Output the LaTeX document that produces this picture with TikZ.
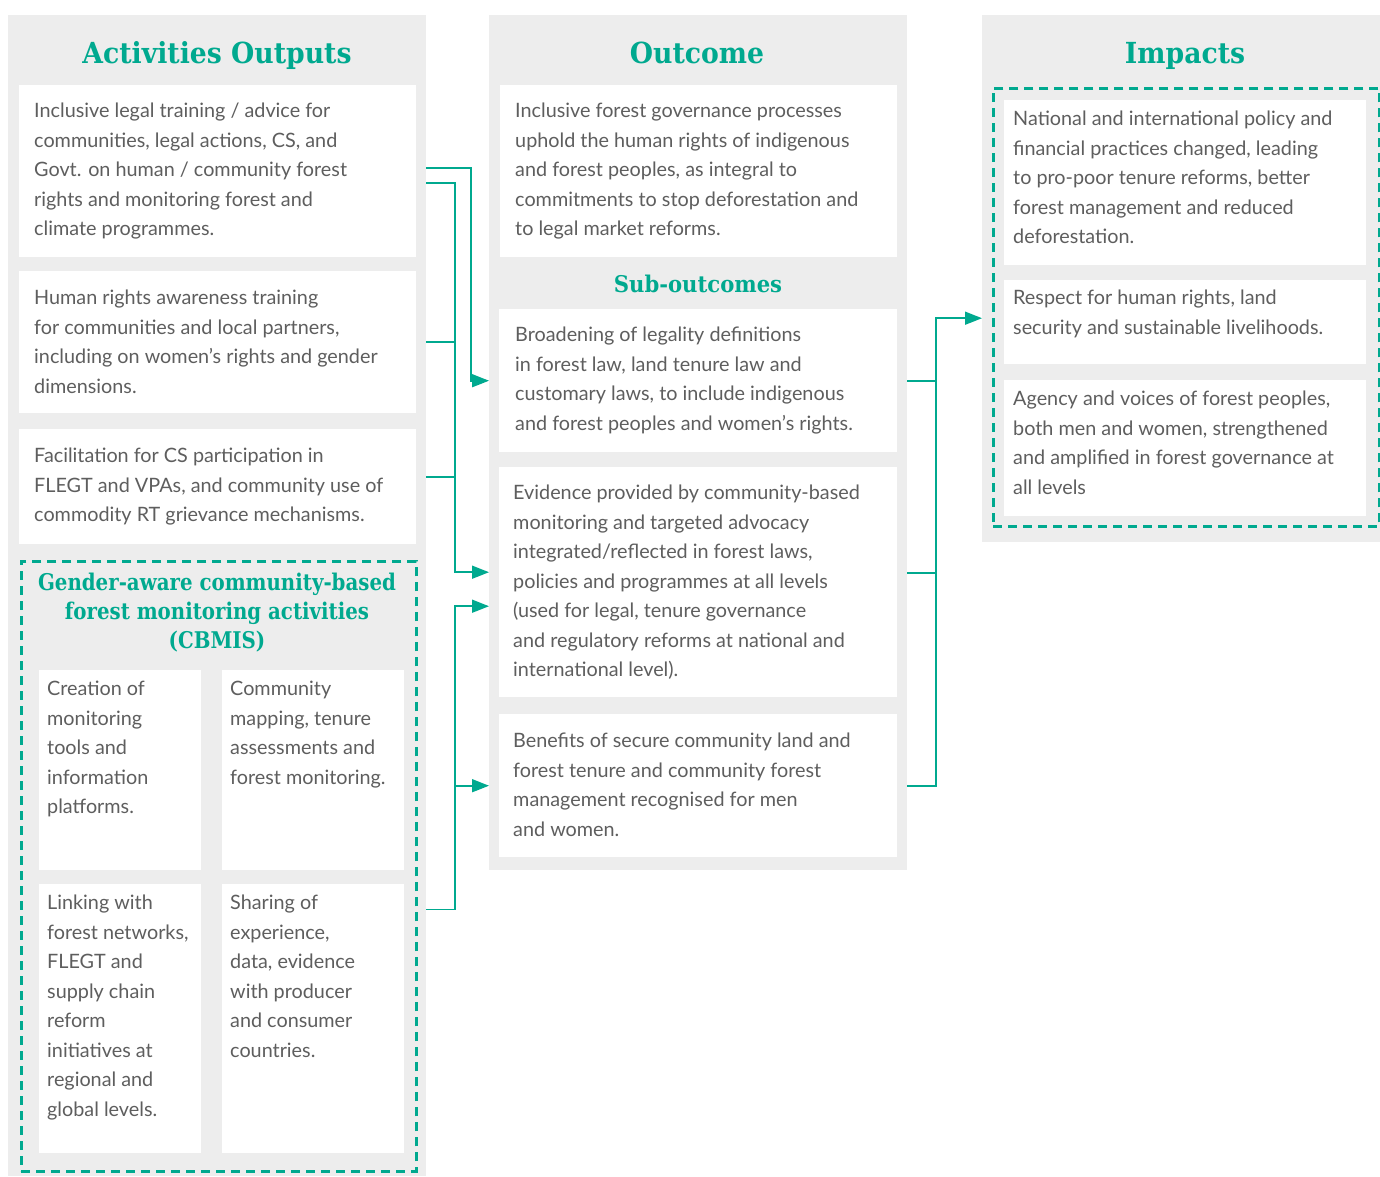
\documentclass[tikz,border=0pt]{standalone}
\usepackage{fontspec}
\setmainfont{Lato}
\newfontfamily\headfont{DejaVu Serif}[FakeStretch=0.92]
\newfontfamily\groupfont{DejaVu Serif}[FakeStretch=0.86]
\usetikzlibrary{arrows.meta,calc}
\definecolor{teal}{HTML}{00A98F}
\definecolor{panel}{HTML}{EDEDED}
\definecolor{ink}{HTML}{5E5E5E}
\begin{document}
\begin{tikzpicture}[x=1pt,y=-1pt,
  panelbox/.style={fill=panel,draw=none,inner sep=0,anchor=north west},
  card/.style={fill=white,draw=none,inner sep=0,anchor=north west},
  dashbox/.style={draw=teal,line width=2.7pt,dash pattern=on 9pt off 6pt,inner sep=0,anchor=north west},
  body/.style={inner sep=0,anchor=north west,align=left,text=ink,font=\fontsize{19.8}{29.5}\selectfont},
  title/.style={inner sep=0,anchor=base,text=teal,font=\headfont\bfseries\fontsize{29}{30}\selectfont},
  subtitle/.style={inner sep=0,text=teal,align=center,font=\headfont\bfseries\fontsize{22}{29}\selectfont},
  flow/.style={draw=teal,line width=1.6pt},
  tip/.style={-{Triangle[length=17pt,width=13pt]}}]
\useasboundingbox (0,0) rectangle (1380,1176);

% column panels
\node[panelbox,minimum width=418pt,minimum height=1161pt] (col1) at (8,15) {};
\node[panelbox,minimum width=418pt,minimum height=855pt] (col2) at (489,15) {};
\node[panelbox,minimum width=398pt,minimum height=527pt] (col3) at (982,15) {};

% column titles
\node[title] (t1) at (217,63) {Activities Outputs};
\node[title] (t2) at (697,63) {Outcome};
\node[title] (t3) at (1185,63) {Impacts};

% activities / outputs
\node[card,minimum width=397pt,minimum height=172pt] (a1) at (19,85) {};
\node[card,minimum width=397pt,minimum height=142pt] (a2) at (19,271) {};
\node[card,minimum width=397pt,minimum height=115pt] (a3) at (19,429) {};
\node[body] (a1t) at (34,103) {Inclusive legal training / advice for\\communities, legal actions, CS, and\\Govt. on human / community forest\\rights and monitoring forest and\\climate programmes.};
\node[body] (a2t) at (34,290) {Human rights awareness training\\for communities and local partners,\\including on women’s rights and gender\\dimensions.};
\node[body] (a3t) at (34,448) {Facilitation for CS participation in\\FLEGT and VPAs, and community use of\\commodity RT grievance mechanisms.};

% CBMIS group
\node[dashbox,minimum width=395pt,minimum height=610pt] (cb) at (20,560) {};
\node[subtitle,anchor=north,font=\groupfont\bfseries\fontsize{23}{29}\selectfont] (cbt) at (217,573) {Gender-aware community-based\\forest monitoring activities\\(CBMIS)};
\node[card,minimum width=162pt,minimum height=200pt] (c1) at (39,670) {};
\node[card,minimum width=182pt,minimum height=200pt] (c2) at (222,670) {};
\node[card,minimum width=162pt,minimum height=269pt] (c3) at (39,884) {};
\node[card,minimum width=182pt,minimum height=269pt] (c4) at (222,884) {};
\node[body] (c1t) at (47,681) {Creation of\\monitoring\\tools and\\information\\platforms.};
\node[body] (c2t) at (230,681) {Community\\mapping, tenure\\assessments and\\forest monitoring.};
\node[body] (c3t) at (47,895) {Linking with\\forest networks,\\FLEGT and\\supply chain\\reform\\initiatives at\\regional and\\global levels.};
\node[body] (c4t) at (230,895) {Sharing of\\experience,\\data, evidence\\with producer\\and consumer\\countries.};

% outcome
\node[card,minimum width=397pt,minimum height=172pt] (o1) at (500,85) {};
\node[body] (o1t) at (515,103) {Inclusive forest governance processes\\uphold the human rights of indigenous\\and forest peoples, as integral to\\commitments to stop deforestation and\\to legal market reforms.};
\node[subtitle,anchor=base,font=\headfont\bfseries\fontsize{23}{29}\selectfont] (st) at (698,292) {Sub-outcomes};
\node[card,minimum width=398pt,minimum height=143pt] (s1) at (499,309) {};
\node[card,minimum width=398pt,minimum height=230pt] (s2) at (499,467) {};
\node[card,minimum width=398pt,minimum height=143pt] (s3) at (499,714) {};
\node[body] (s1t) at (515,327) {Broadening of legality definitions\\in forest law, land tenure law and\\customary laws, to include indigenous\\and forest peoples and women’s rights.};
\node[body] (s2t) at (513,485) {Evidence provided by community-based\\monitoring and targeted advocacy\\integrated/reflected in forest laws,\\policies and programmes at all levels\\(used for legal, tenure governance\\and regulatory reforms at national and\\international level).};
\node[body] (s3t) at (513,733) {Benefits of secure community land and\\forest tenure and community forest\\management recognised for men\\and women.};

% impacts
\node[dashbox,minimum width=386pt,minimum height=438pt] (ib) at (992,87) {};
\node[card,minimum width=362pt,minimum height=165pt] (i1) at (1004,100) {};
\node[card,minimum width=362pt,minimum height=84pt] (i2) at (1004,280) {};
\node[card,minimum width=362pt,minimum height=136pt] (i3) at (1004,380) {};
\node[body] (i1t) at (1013,111) {National and international policy and\\financial practices changed, leading\\to pro-poor tenure reforms, better\\forest management and reduced\\deforestation.};
\node[body] (i2t) at (1013,290) {Respect for human rights, land\\security and sustainable livelihoods.};
\node[body] (i3t) at (1013,391) {Agency and voices of forest peoples,\\both men and women, strengthened\\and amplified in forest governance at\\all levels};

% connector buses
\coordinate (busA) at (471,0);
\coordinate (busB) at (455,0);
\coordinate (busC) at (936,0);

% activities -> sub-outcomes
\draw[flow,tip] ($(col1.east|-a1.center)+(0,-3)$) -| (busA|-s1.center) -- (col2.west|-s1.center);
\draw[flow,tip] ($(col1.east|-a1.center)+(0,12)$) -| ($(busB|-s2.center)+(0,-10)$) -- ($(col2.west|-s2.center)+(0,-10)$);
\draw[flow] (col1.east|-a2.center) -- (busB|-a2.center);
\draw[flow] ($(col1.east|-a3.center)+(0,-9.5)$) -- ($(busB|-a3.center)+(0,-9.5)$);
\draw[flow,tip] ($(col1.east|-cb.center)+(0,43)$) -| ($(busB|-s2.center)+(0,24)$) -- ($(col2.west|-s2.center)+(0,24)$);
\draw[flow,tip] (busB|-s3.center) -- (col2.west|-s3.center);

% sub-outcomes -> impacts
\draw[flow] (col2.east|-s1.center) -- (busC|-s1.center);
\draw[flow] ($(col2.east|-s2.center)+(0,-9)$) -- ($(busC|-s2.center)+(0,-9)$);
\draw[flow,tip] (col2.east|-s3.center) -| ($(busC|-i2.center)+(0,-4)$) -- ($(col3.west|-i2.center)+(0,-4)$);
\end{tikzpicture}
\end{document}
